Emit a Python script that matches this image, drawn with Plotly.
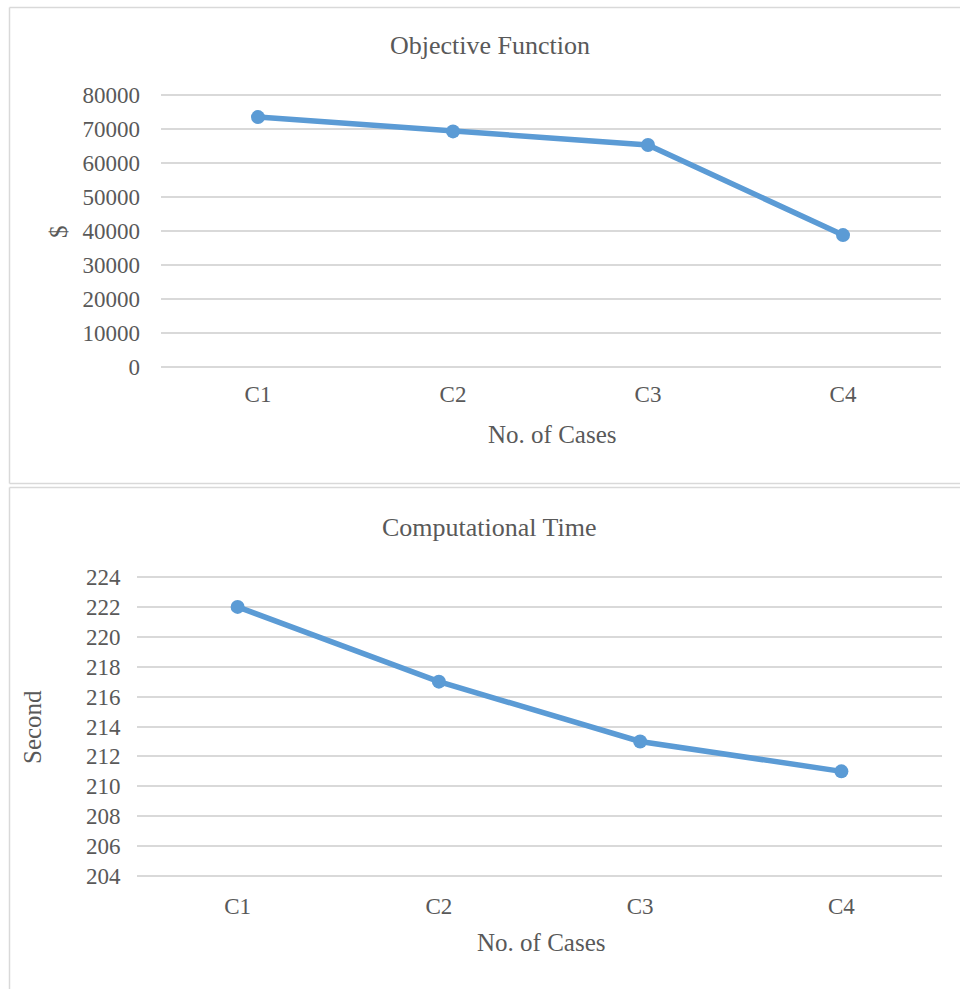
import plotly.graph_objects as go

categories = ["C1", "C2", "C3", "C4"]
objective_values = [73500, 69300, 65300, 38800]
time_values = [222, 217, 213, 211]
obj_ticks = [0, 10000, 20000, 30000, 40000, 50000, 60000, 70000, 80000]
time_ticks = [204, 206, 208, 210, 212, 214, 216, 218, 220, 222, 224]

W, H = 960, 989
FONT = "Liberation Serif"
TXT = "#595959"
LINE = "#5B9BD5"
GRID = "#D9D9D9"

def px(x):
    return x / W

def py(y):
    return 1 - y / H

fig = go.Figure()
fig.add_trace(go.Scatter(x=categories, y=objective_values, mode="lines+markers",
                         line=dict(color=LINE, width=5.5), marker=dict(color=LINE, size=14),
                         xaxis="x", yaxis="y", showlegend=False))
fig.add_trace(go.Scatter(x=categories, y=time_values, mode="lines+markers",
                         line=dict(color=LINE, width=5.5), marker=dict(color=LINE, size=14),
                         xaxis="x2", yaxis="y2", showlegend=False))

axis_common = dict(showline=False, zeroline=False, automargin=False,
                   tickfont=dict(family=FONT, size=23, color=TXT))

# small padding so the first/last gridlines are drawn (2 px each side)
obj_pad = 80000 / 272 * 2
time_pad = 20 / 299 * 2

fig.update_layout(
    width=W, height=H, margin=dict(l=0, r=0, t=0, b=0, autoexpand=False),
    paper_bgcolor="white", plot_bgcolor="white",
    xaxis=dict(domain=[px(160.5), px(940.5)], anchor="y", range=[-0.5, 3.5],
               showgrid=False, ticks="outside", ticklen=4, tickcolor="rgba(0,0,0,0)",
               **axis_common),
    yaxis=dict(domain=[py(369), py(93)], anchor="x", range=[-obj_pad, 80000 + obj_pad],
               tickvals=obj_ticks, ticktext=[str(v) for v in obj_ticks],
               showgrid=True, gridcolor=GRID, gridwidth=1.5,
               ticks="outside", ticklen=15, tickcolor="rgba(0,0,0,0)", **axis_common),
    xaxis2=dict(domain=[px(137), px(942)], anchor="y2", range=[-0.5, 3.5],
                showgrid=False, ticks="outside", ticklen=7, tickcolor="rgba(0,0,0,0)",
                **axis_common),
    yaxis2=dict(domain=[py(878), py(575)], anchor="x2", range=[204 - time_pad, 224 + time_pad],
                tickvals=time_ticks, ticktext=[str(v) for v in time_ticks],
                showgrid=True, gridcolor=GRID, gridwidth=1.5,
                ticks="outside", ticklen=11, tickcolor="rgba(0,0,0,0)", **axis_common),
)

# panel borders (only the visible edges)
border = dict(color="#D9D9D9", width=1.5)
def hline(y, x0=9.5, x1=960):
    fig.add_shape(type="line", xref="paper", yref="paper", x0=px(x0), x1=px(x1),
                  y0=py(y), y1=py(y), line=border, layer="below")
def vline(x, y0, y1):
    fig.add_shape(type="line", xref="paper", yref="paper", x0=px(x), x1=px(x),
                  y0=py(y0), y1=py(y1), line=border, layer="below")

hline(7.5)
hline(483.5)
vline(9.5, 7.5, 483.5)
hline(487.5)
vline(9.5, 487.5, 989)

def ann(text, x, y, size, angle=0):
    fig.add_annotation(text=text, xref="paper", yref="paper", x=px(x), y=py(y),
                       xanchor="center", yanchor="middle", showarrow=False, textangle=angle,
                       font=dict(family=FONT, size=size, color=TXT))

ann("Objective Function", 490, 46, 26)
ann("No. of Cases", 552, 435, 25)
ann("$", 58, 232, 25, -90)
ann("Computational Time", 490, 527, 26)
ann("No. of Cases", 541, 942, 25)
ann("Second", 32, 727, 25, -90)

fig.write_html("out.html")
